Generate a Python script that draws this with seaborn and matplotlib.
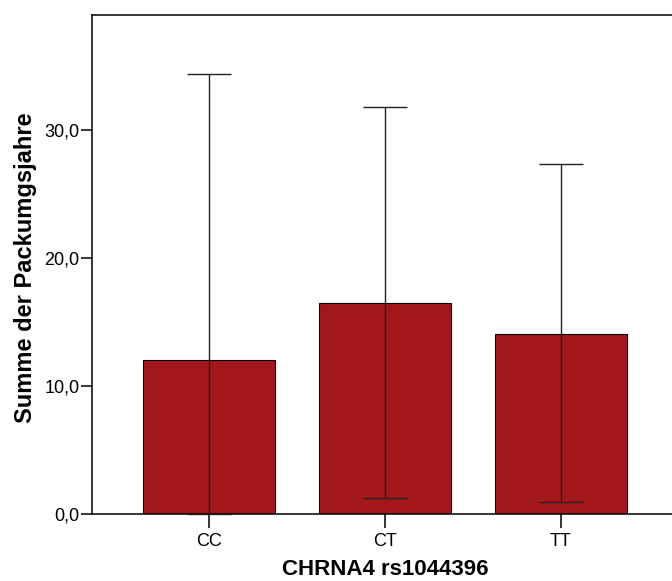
import pandas as pd
import matplotlib
matplotlib.use('Agg')
import matplotlib.pyplot as plt
import seaborn as sns

genotypes = ['CC', 'CT', 'TT']
means = [12.0, 16.5, 14.1]
ci_lower = [0.0, 1.25, 0.95]
ci_upper = [34.4, 31.8, 27.35]
ytick_values = [0, 10, 20, 30]
ytick_labels = ['0,0', '10,0', '20,0', '30,0']

sns.set_style('ticks')
plt.rcParams['font.family'] = ['Liberation Sans', 'DejaVu Sans']
plt.rcParams['text.color'] = 'black'
plt.rcParams['axes.labelcolor'] = 'black'

df = pd.DataFrame({'Genotyp': genotypes, 'Packungsjahre': means})

fig = plt.figure(figsize=(6.72, 5.81), dpi=100)
ax = fig.add_axes([92 / 672, 67 / 581, 586 / 672, 499 / 581])

sns.barplot(data=df, x='Genotyp', y='Packungsjahre', color='#A3171B',
            saturation=1, width=0.75, edgecolor='black', linewidth=0.8,
            errorbar=None, ax=ax, zorder=2)

yerr = [[m - lo for m, lo in zip(means, ci_lower)],
        [hi - m for m, hi in zip(means, ci_upper)]]
ax.errorbar(range(len(genotypes)), means, yerr=yerr, fmt='none',
            ecolor='#222222', elinewidth=1.0, capsize=16, capthick=1.0,
            zorder=3, clip_on=False)

ax.set_xlim(-0.665, 2.665)
ax.set_ylim(0, 39.0)
ax.set_yticks(ytick_values)
ax.set_yticklabels(ytick_labels)

for side in ['left', 'top', 'bottom']:
    ax.spines[side].set_color('black')
    ax.spines[side].set_linewidth(1.1)
ax.spines['right'].set_visible(False)

ax.tick_params(axis='y', length=8, width=1.1, labelsize=13, pad=1, colors='black')
ax.tick_params(axis='x', length=10, width=1.1, labelsize=13, pad=4, colors='black')

ax.set_xlabel('CHRNA4 rs1044396', fontsize=16, fontweight='bold')
ax.set_ylabel('Summe der Packumgsjahre', fontsize=17, fontweight='bold')
ax.xaxis.label.set_va('baseline')
ax.xaxis.set_label_coords(0.5, (514 - 575) / 499)
ax.yaxis.label.set_va('baseline')
ax.yaxis.set_label_coords((32 - 92) / 586, 0.494)

fig.savefig('out.png', dpi=100)
